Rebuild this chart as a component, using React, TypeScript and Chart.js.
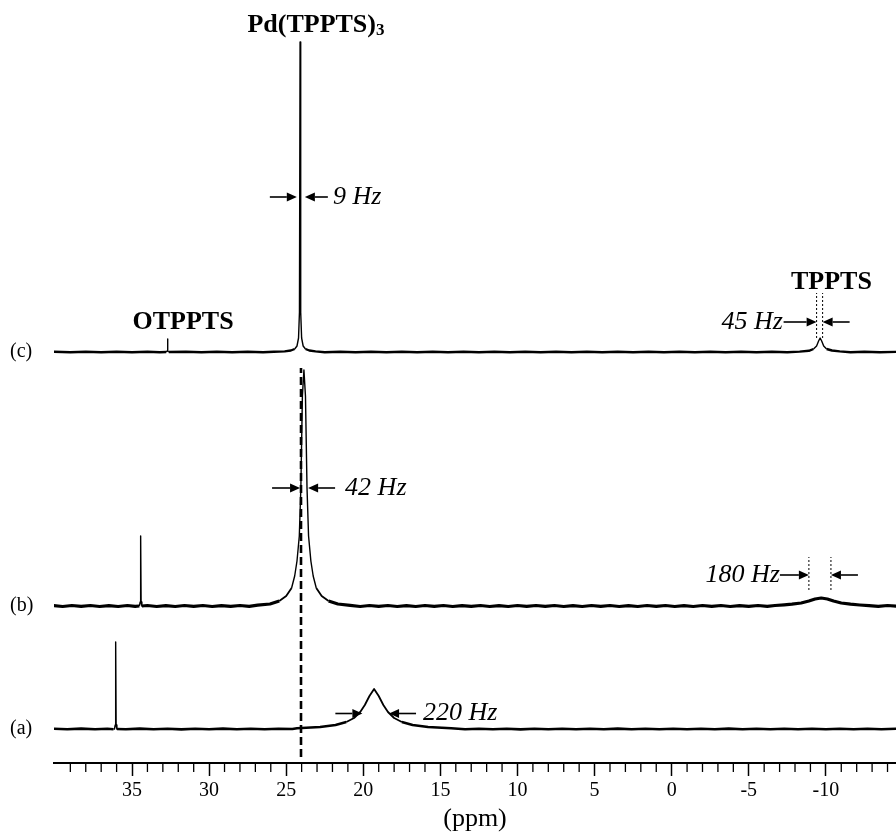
import { useEffect, useRef } from "react";
import { Chart, registerables } from "chart.js";
Chart.register(...registerables);

// ---------- data ----------
const traceNames = ["(a)", "(b)", "(c)"];
const traceOffsets = [34, 157, 411];

const ppmA = [40.1, 39.2, 38.3, 37.4, 36.6, 36.2, 36.14, 36.09, 36.06, 36.03, 35.98, 35.4, 34.5, 33.6, 32.7, 31.8, 30.9, 30, 29.1, 28.2, 27.3, 26.4, 25.5, 24.6, 24.3, 22.8, 21.8, 21.1, 20.6, 20.2, 19.9, 19.6, 19.3, 19, 18.7, 18.4, 18, 17.5, 16.8, 15.8, 14.3, 13.4, 12.5, 11.6, 10.7, 9.8, 8.9, 8, 7.1, 6.2, 5.3, 4.4, 3.5, 2.6, 1.7, 0.8, -0.1, -1, -1.9, -2.8, -3.7, -4.6, -5.5, -6.4, -7.3, -8.2, -9.1, -10, -10.9, -11.8, -12.7, -13.6, -14.7];
const intA = [0.3, -0.3, 0.4, -0.3, 0.3, -0.2, 0, 4, 87, 4, 0, -0.3, 0.4, -0.3, 0.3, -0.4, 0.3, -0.3, 0.4, -0.3, 0.3, -0.3, 0.3, 0, 0.8, 2, 4, 7, 11, 17, 24, 33, 40, 33, 24, 17, 11, 7, 4, 2, 0.8, -0.3, 0.3, -0.3, 0.3, -0.4, 0.3, -0.3, 0.3, -0.3, 0.3, -0.3, 0.4, -0.3, 0.3, -0.3, 0.3, -0.3, 0.3, -0.3, 0.4, -0.3, 0.3, -0.3, 0.3, -0.3, 0.3, -0.3, 0.3, -0.3, 0.3, -0.3, 0.3];

const ppmB = [40.1, 39.5, 38.9, 38.3, 37.7, 37.1, 36.5, 35.9, 35.3, 34.8, 34.52, 34.47, 34.44, 34.41, 34.36, 34, 33.4, 32.8, 32.2, 31.6, 31, 30.4, 29.8, 29.2, 28.6, 28, 27.4, 26.85, 26.05, 25.45, 25, 24.65, 24.45, 24.3, 24.15, 24.05, 23.95, 23.85, 23.75, 23.65, 23.55, 23.4, 23.25, 23.05, 22.7, 22.25, 21.65, 20.85, 20.2, 19.6, 19, 18.4, 17.8, 17.2, 16.6, 16, 15.4, 14.8, 14.2, 13.6, 13, 12.4, 11.8, 11.2, 10.6, 10, 9.4, 8.8, 8.2, 7.6, 7, 6.4, 5.8, 5.2, 4.6, 4, 3.4, 2.8, 2.2, 1.6, 1, 0.4, -0.2, -0.8, -1.4, -2, -2.6, -3.2, -3.8, -4.4, -5, -5.6, -6.2, -6.7, -7.3, -7.8, -8.4, -8.9, -9.3, -9.7, -10.1, -10.5, -11, -11.6, -12.2, -12.8, -13.4, -14, -14.7];
const intB = [0.4, -0.5, 0.5, -0.4, 0.5, -0.5, 0.4, -0.5, 0.5, -0.4, 0, 4, 70, 4, 0, 0.5, -0.5, 0.4, -0.5, 0.5, -0.4, 0.5, -0.5, 0.4, -0.4, 0.5, -0.3, 0.8, 2, 5, 10, 18, 30, 45, 70, 118, 210, 236, 210, 118, 70, 45, 30, 18, 10, 5, 2, 0.6, -0.5, 0.5, -0.4, 0.5, -0.5, 0.4, -0.5, 0.5, -0.4, 0.5, -0.5, 0.4, -0.4, 0.5, -0.5, 0.4, -0.5, 0.5, -0.4, 0.5, -0.4, 0.5, -0.5, 0.4, -0.5, 0.5, -0.4, 0.5, -0.5, 0.4, -0.5, 0.5, -0.4, 0.5, -0.5, 0.4, -0.5, 0.5, -0.4, 0.5, -0.5, 0.4, -0.4, 0.5, -0.3, 0.5, 1.2, 1.8, 3, 5, 7, 8, 7, 5, 3, 1.8, 1, 0.3, -0.4, 0.5, -0.3];

const ppmC = [40.1, 39, 38, 37, 36, 35, 34, 33.2, 32.78, 32.73, 32.7, 32.67, 32.62, 31.5, 30.5, 29.5, 28.5, 27.5, 26.5, 25.8, 25.1, 24.7, 24.45, 24.3, 24.2, 24.14, 24.1, 24.06, 24, 23.9, 23.75, 23.5, 23.1, 22.5, 21.5, 20.5, 19.5, 18.5, 17.5, 16.5, 15.5, 14.5, 13.5, 12.5, 11.5, 10.5, 9.5, 8.5, 7.5, 6.5, 5.5, 4.5, 3.5, 2.5, 1.5, 0.5, -0.5, -1.5, -2.5, -3.5, -4.5, -5.5, -6.5, -7.5, -8.3, -8.9, -9.2, -9.4, -9.53, -9.63, -9.73, -9.86, -10.05, -10.4, -10.9, -11.6, -12.5, -13.5, -14.7];
const intC = [0.2, -0.2, 0.3, -0.2, 0.2, -0.3, 0.2, -0.2, 0, 1, 13, 1, 0, 0.2, -0.2, 0.2, -0.2, 0.3, -0.2, 0.2, 0.6, 1.5, 3, 6, 14, 40, 310, 40, 14, 6, 3, 1.5, 0.6, -0.2, 0.2, -0.2, 0.2, -0.2, 0.2, -0.3, 0.2, -0.2, 0.3, -0.2, 0.2, -0.2, 0.2, -0.2, 0.2, -0.2, 0.2, -0.2, 0.2, -0.2, 0.2, -0.2, 0.2, -0.2, 0.2, -0.2, 0.2, -0.2, 0.2, -0.2, 0.4, 1.2, 3, 6, 11, 14, 11, 6, 3, 1.5, 0.6, -0.2, 0.2, -0.2, 0.2];

const refLinePpm = 24.04;
const refLineRange = [6, 395];

const majorTickValues = [35, 30, 25, 20, 15, 10, 5, 0, -5, -10];
const minorTickValues: number[] = [];
for (let v = 39; v >= -14; v--) if (v % 5 !== 0) minorTickValues.push(v);

const peakLabels = [
  { text: "OTPPTS", x: 31.69, y: 441 },
  { text: "TPPTS", x: -10.36, y: 481 },
];
const complexLabel = { main: "Pd(TPPTS)", sub: "3", x: 23.07, y: 738 };

const widthMarks = [
  { text: "9 Hz", tipL: 24.31, tipR: 23.79, y: 566, lenL: 27, lenR: 23, textX: 21.96, align: "left", dots: null as null | number[] },
  { text: "42 Hz", tipL: 24.1, tipR: 23.58, y: 275, lenL: 28, lenR: 27, textX: 21.18, align: "left", dots: null },
  { text: "45 Hz", tipL: -9.4, tipR: -9.79, y: 441, lenL: 33, lenR: 27, textX: -7.22, align: "right", dots: [425, 470] },
  { text: "180 Hz", tipL: -8.9, tipR: -10.33, y: 188, lenL: 29, lenR: 27, textX: -7.02, align: "right", dots: [173, 206] },
  { text: "220 Hz", tipL: 20.06, tipR: 18.33, y: 49.5, lenL: 27, lenR: 27, textX: 16.13, align: "left", dots: null },
];

const SERIF = "'Liberation Serif', 'Times New Roman', serif";

function arrow(ctx: CanvasRenderingContext2D, tipX: number, y: number, dir: number, len: number) {
  const head = 10, hw = 4.5;
  ctx.beginPath();
  ctx.moveTo(tipX - dir * len, y);
  ctx.lineTo(tipX - dir * head, y);
  ctx.lineWidth = 1.6;
  ctx.stroke();
  ctx.beginPath();
  ctx.moveTo(tipX, y);
  ctx.lineTo(tipX - dir * head, y - hw);
  ctx.lineTo(tipX - dir * head, y + hw);
  ctx.closePath();
  ctx.fill();
}

const annotPlugin = {
  id: "annot",
  afterDraw(chart: any) {
    const { ctx, chartArea } = chart;
    const xs = chart.scales.x, ys = chart.scales.y;
    const X = (v: number) => xs.getPixelForValue(v);
    const Y = (v: number) => ys.getPixelForValue(v);
    ctx.save();
    ctx.strokeStyle = "#000";
    ctx.fillStyle = "#000";
    // minor ticks
    ctx.lineWidth = 1.3;
    for (const v of minorTickValues) {
      const x = X(v);
      ctx.beginPath();
      ctx.moveTo(x, chartArea.bottom);
      ctx.lineTo(x, chartArea.bottom + 9);
      ctx.stroke();
    }
    // trace names
    ctx.font = `20px ${SERIF}`;
    ctx.textAlign = "left";
    ctx.textBaseline = "middle";
    traceNames.forEach((n, i) => ctx.fillText(n, 10, Y(traceOffsets[i])));
    // peak labels
    ctx.font = `bold 26px ${SERIF}`;
    ctx.textAlign = "center";
    for (const p of peakLabels) ctx.fillText(p.text, X(p.x), Y(p.y));
    // complex label with subscript
    const mainW = ctx.measureText(complexLabel.main).width;
    ctx.font = `bold 17px ${SERIF}`;
    const subW = ctx.measureText(complexLabel.sub).width;
    const left = X(complexLabel.x) - (mainW + subW) / 2;
    ctx.textAlign = "left";
    ctx.font = `bold 26px ${SERIF}`;
    ctx.fillText(complexLabel.main, left, Y(complexLabel.y));
    ctx.font = `bold 17px ${SERIF}`;
    ctx.fillText(complexLabel.sub, left + mainW, Y(complexLabel.y) + 6);
    // width markers
    for (const m of widthMarks) {
      const y = Y(m.y);
      arrow(ctx, X(m.tipL), y, 1, m.lenL);
      arrow(ctx, X(m.tipR), y, -1, m.lenR);
      ctx.font = `italic 26px ${SERIF}`;
      ctx.textAlign = m.align as CanvasTextAlign;
      ctx.fillText(m.text, X(m.textX), y);
      if (m.dots) {
        ctx.save();
        ctx.setLineDash([2, 2]);
        ctx.lineWidth = 1;
        for (const t of [m.tipL, m.tipR]) {
          ctx.beginPath();
          ctx.moveTo(X(t), Y(m.dots[0]));
          ctx.lineTo(X(t), Y(m.dots[1]));
          ctx.stroke();
        }
        ctx.restore();
      }
    }
    ctx.restore();
  },
};

function traceDataset(ppm: number[], ints: number[], idx: number, thick: number) {
  const off = traceOffsets[idx];
  return {
    label: traceNames[idx],
    data: ppm.map((x, k) => ({ x, y: off + ints[k] })),
    borderColor: "#000",
    borderWidth: 1.4,
    pointRadius: 0,
    tension: 0,
    borderJoinStyle: "round",
    segment: {
      borderWidth: (c: any) => {
        const dx = Math.abs(c.p0.parsed.x - c.p1.parsed.x);
        const h = Math.max(Math.abs(c.p0.parsed.y - off), Math.abs(c.p1.parsed.y - off));
        if (dx >= 0.25 && h <= 8) return thick;
        if (dx >= 0.25) return 1.8;
        return 1.4;
      },
    },
  };
}

export default function App() {
  const ref = useRef<HTMLCanvasElement>(null);
  useEffect(() => {
    if (!ref.current) return;
    const chart = new Chart(ref.current, {
      type: "line",
      data: {
        datasets: [
          traceDataset(ppmA, intA, 0, 2.6),
          traceDataset(ppmB, intB, 1, 3.2),
          traceDataset(ppmC, intC, 2, 2.4),
          {
            label: "ref",
            data: refLineRange.map((y) => ({ x: refLinePpm, y })),
            borderColor: "#000",
            borderWidth: 2.6,
            borderDash: [8, 4],
            pointRadius: 0,
          },
        ] as any,
      },
      options: {
        animation: false,
        responsive: false,
        events: [],
        layout: { padding: { left: 54, right: 0, top: 0, bottom: 0 } },
        plugins: { legend: { display: false }, tooltip: { enabled: false } },
        scales: {
          x: {
            type: "linear",
            reverse: true,
            min: -14.55,
            max: 40.06,
            afterBuildTicks: (s: any) => {
              s.ticks = majorTickValues.map((v) => ({ value: v }));
            },
            border: { display: true, color: "#000", width: 2 },
            grid: { display: true, drawOnChartArea: false, drawTicks: true, tickLength: 13, tickWidth: 1.5, tickColor: "#000" },
            ticks: {
              color: "#000",
              font: { family: SERIF, size: 20 },
              padding: 3,
              maxRotation: 0,
              autoSkip: false,
              callback: (v: any) => String(v),
            },
            title: {
              display: true,
              text: "(ppm)",
              color: "#000",
              font: { family: SERIF, size: 26, lineHeight: 1.0 },
              padding: { top: 0, bottom: 0 },
            },
          },
          y: { type: "linear", display: false, min: 0, max: 763 },
        },
      } as any,
      plugins: [annotPlugin],
    });
    return () => chart.destroy();
  }, []);
  return (
    <div style={{ position: "absolute", left: 0, top: 0, width: 896, height: 832, background: "#fff" }}>
      <canvas ref={ref} width={896} height={832} />
    </div>
  );
}
